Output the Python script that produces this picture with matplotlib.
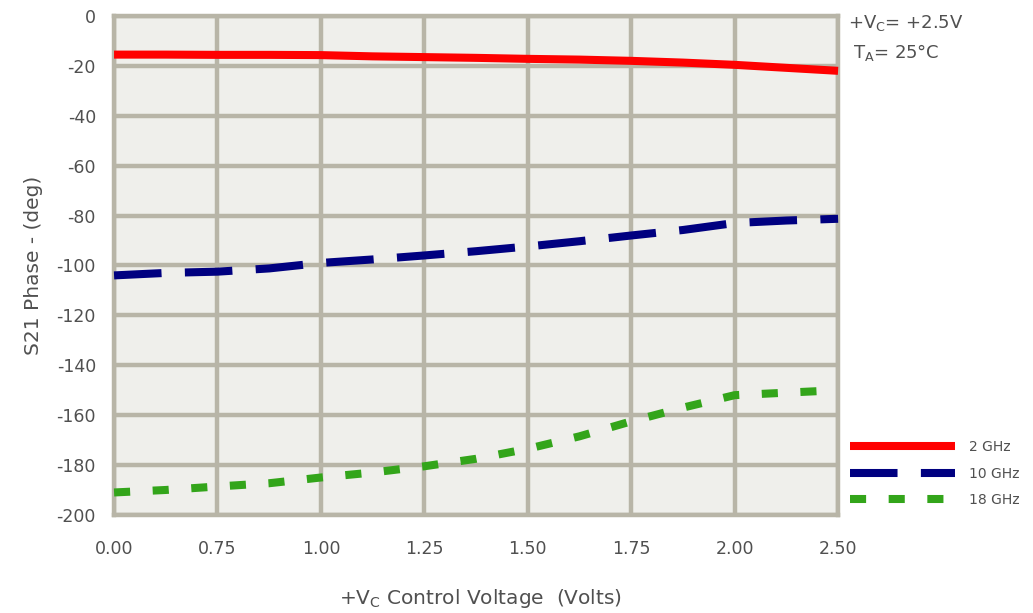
import matplotlib
matplotlib.use("Agg")
import matplotlib.pyplot as plt
from matplotlib.lines import Line2D

# x positions are the gridline slots (the chart's axis is category-like)
tick_pos = [0, 1, 2, 3, 4, 5, 6, 7]
tick_labels = ["0.00", "0.75", "1.00", "1.25", "1.50", "1.75", "2.00", "2.50"]
y_ticks = [0, -20, -40, -60, -80, -100, -120, -140, -160, -180, -200]

x_pts = [0, 0.5, 1, 1.5, 2, 2.5, 3, 3.5, 4, 4.5, 5, 5.5, 6, 6.5, 7]
phase_2ghz = [-15.5, -15.5, -15.6, -15.6, -15.7, -16.2, -16.5, -16.8, -17.2, -17.5, -18.0, -18.7, -19.6, -20.8, -22.0]
phase_10ghz = [-104.0, -103.0, -102.5, -101.2, -99.0, -97.6, -96.0, -94.3, -92.4, -90.3, -88.0, -85.8, -83.0, -82.0, -81.3]
phase_18ghz = [-191.0, -190.0, -188.6, -187.3, -185.0, -183.0, -180.5, -177.5, -173.5, -168.5, -162.5, -157.0, -152.0, -151.0, -150.0]

series = ["2 GHz", "10 GHz", "18 GHz"]
colors = ["#FF0000", "#000080", "#33A51A"]

grid_c = "#B8B5A7"
text_c = "#505050"

plt.rcParams['font.family'] = ['DejaVu Sans']

fig = plt.figure(figsize=(10.33, 6.13), dpi=100)
ax = fig.add_axes([0.1104, 0.160, 0.7009, 0.814])
ax.set_facecolor("#EFEFEB")

ax.set_xlim(0, 7)
ax.set_ylim(-200, 0)
ax.set_xticks(tick_pos)
ax.set_xticklabels(tick_labels)
ax.set_yticks(y_ticks)
ax.set_yticklabels([str(v) for v in y_ticks])
ax.grid(True, color=grid_c, linewidth=3.2, zorder=1)
ax.set_axisbelow(True)
for s in ax.spines.values():
    s.set_color(grid_c)
    s.set_linewidth(3.2)
ax.tick_params(length=0, labelsize=12.5, labelcolor=text_c, pad=13)
ax.tick_params(axis="x", pad=18)

lw = 5.8
l1, = ax.plot(x_pts, phase_2ghz, color=colors[0], lw=lw, solid_capstyle="butt", zorder=3, clip_on=False)
l2, = ax.plot(x_pts, phase_10ghz, color=colors[1], lw=lw, dash_capstyle="butt", zorder=3, clip_on=False)
l2.set_dashes([5.9, 2.9])
l3, = ax.plot(x_pts, phase_18ghz, color=colors[2], lw=lw, dash_capstyle="butt", zorder=3, clip_on=False)
l3.set_dashes([2.0, 2.8])

ax.set_ylabel("S21 Phase - (deg)", fontsize=14.5, color=text_c, labelpad=10)
fig.text(0.465, 0.015, "+V$_\\mathregular{C}$ Control Voltage  (Volts)", fontsize=14.5, color=text_c, ha="center")

fig.text(0.821, 0.963, "+V$_\\mathregular{C}$= +2.5V", fontsize=13, color=text_c, va="center")
fig.text(0.826, 0.914, "T$_\\mathregular{A}$= 25\u00b0C", fontsize=13, color=text_c, va="center")

h1 = Line2D([], [], color=colors[0], lw=lw, solid_capstyle="butt")
h2 = Line2D([], [], color=colors[1], lw=lw, dash_capstyle="butt", dashes=[5.9, 2.9])
h3 = Line2D([], [], color=colors[2], lw=lw, dash_capstyle="butt", dashes=[2.0, 2.8])
leg = fig.legend([h1, h2, h3], series, loc="center left", bbox_to_anchor=(0.817, 0.227),
                 frameon=False, fontsize=10, handlelength=7.6, handletextpad=1.0,
                 labelspacing=0.9, borderaxespad=0)
for t in leg.get_texts():
    t.set_color(text_c)

fig.savefig("out.png", dpi=100)
